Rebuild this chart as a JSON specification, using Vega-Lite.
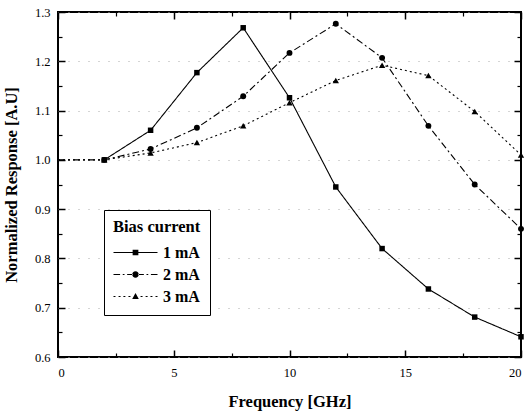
{
  "$schema": "https://vega.github.io/schema/vega-lite/v6.json",
  "width": 463,
  "height": 345,
  "autosize": "none",
  "padding": {"left": 58, "top": 12, "right": 7, "bottom": 57},
  "background": "white",
  "config": {
    "view": {"stroke": "black", "strokeWidth": 2},
    "font": "Liberation Serif",
    "axis": {
      "domain": false,
      "grid": false,
      "ticks": false,
      "labelColor": "black",
      "labelFont": "Liberation Serif",
      "labelFontSize": 12.5,
      "titleFont": "Liberation Serif",
      "titleFontSize": 16.5,
      "titleFontWeight": "bold",
      "titleColor": "black"
    },
    "legend": {
      "orient": "none",
      "legendX": 46,
      "legendY": 198,
      "strokeColor": "black",
      "fillColor": "white",
      "padding": 9,
      "titleFont": "Liberation Serif",
      "titleFontSize": 16.5,
      "titleFontWeight": "bold",
      "titleColor": "black",
      "titlePadding": 8,
      "labelFont": "Liberation Serif",
      "labelFontSize": 16,
      "labelFontWeight": "bold",
      "labelColor": "black",
      "labelOffset": 5,
      "symbolSize": 1936,
      "clipHeight": 18,
      "rowPadding": 4,
      "symbolOpacity": 1,
      "symbolStrokeColor": "#000000",
      "symbolStrokeWidth": 1,
      "symbolFillColor": "#000000"
    }
  },
  "data": {
    "values": [
      {"f": 2, "r": 1.0, "s": "1 mA"},
      {"f": 4, "r": 1.06, "s": "1 mA"},
      {"f": 6, "r": 1.177, "s": "1 mA"},
      {"f": 8, "r": 1.268, "s": "1 mA"},
      {"f": 10, "r": 1.126, "s": "1 mA"},
      {"f": 12, "r": 0.945, "s": "1 mA"},
      {"f": 14, "r": 0.82, "s": "1 mA"},
      {"f": 16, "r": 0.738, "s": "1 mA"},
      {"f": 18, "r": 0.681, "s": "1 mA"},
      {"f": 20, "r": 0.641, "s": "1 mA"},
      {"f": 0, "r": 1.0, "s": "2 mA"},
      {"f": 2, "r": 1.0, "s": "2 mA"},
      {"f": 4, "r": 1.022, "s": "2 mA"},
      {"f": 6, "r": 1.065, "s": "2 mA"},
      {"f": 8, "r": 1.129, "s": "2 mA"},
      {"f": 10, "r": 1.217, "s": "2 mA"},
      {"f": 12, "r": 1.276, "s": "2 mA"},
      {"f": 14, "r": 1.207, "s": "2 mA"},
      {"f": 16, "r": 1.069, "s": "2 mA"},
      {"f": 18, "r": 0.95, "s": "2 mA"},
      {"f": 20, "r": 0.86, "s": "2 mA"},
      {"f": 0, "r": 1.0, "s": "3 mA"},
      {"f": 2, "r": 1.0, "s": "3 mA"},
      {"f": 4, "r": 1.014, "s": "3 mA"},
      {"f": 6, "r": 1.035, "s": "3 mA"},
      {"f": 8, "r": 1.069, "s": "3 mA"},
      {"f": 10, "r": 1.116, "s": "3 mA"},
      {"f": 12, "r": 1.161, "s": "3 mA"},
      {"f": 14, "r": 1.192, "s": "3 mA"},
      {"f": 16, "r": 1.171, "s": "3 mA"},
      {"f": 18, "r": 1.098, "s": "3 mA"},
      {"f": 20, "r": 1.01, "s": "3 mA"}
    ]
  },
  "resolve": {
    "axis": {"x": "independent", "y": "independent"},
    "scale": {"shape": "independent", "strokeDash": "independent"}
  },
  "layer": [
    {
      "mark": {"type": "line", "color": "black", "strokeWidth": 1.1},
      "encoding": {
        "x": {
          "field": "f", "type": "quantitative",
          "scale": {"domain": [0, 20], "nice": false, "zero": false},
          "axis": {
            "orient": "bottom",
            "title": "Frequency [GHz]",
            "values": [0, 5, 10, 15, 20],
            "format": "d",
            "labelPadding": 9,
            "titlePadding": 15
          }
        },
        "y": {
          "field": "r", "type": "quantitative",
          "scale": {"domain": [0.6, 1.3], "nice": false, "zero": false},
          "axis": {
            "orient": "left",
            "title": "Normalized Response [A.U]",
            "values": [0.6, 0.7, 0.8, 0.9, 1.0, 1.1, 1.2, 1.3],
            "format": ".1f",
            "labelPadding": 8,
            "titlePadding": 15,
            "grid": true,
            "gridColor": "#aaaaaa",
            "gridDash": [1, 9],
            "gridWidth": 1
          }
        },
        "strokeDash": {
          "field": "s", "type": "nominal",
          "scale": {"domain": ["1 mA", "2 mA", "3 mA"], "range": [[1, 0], [7, 3, 2, 3], [2, 3]]},
          "legend": null
        }
      }
    },
    {
      "transform": [{"filter": "datum.f > 0"}],
      "mark": {"type": "point", "filled": true, "color": "black", "opacity": 1},
      "encoding": {
        "x": {
          "field": "f", "type": "quantitative",
          "axis": {"orient": "top", "title": null, "labels": false, "values": [0, 5, 10, 15, 20], "grid": true, "gridColor": "#000000", "gridWidth": 1.5, "gridDash": [7, 1000]}
        },
        "y": {
          "field": "r", "type": "quantitative",
          "axis": {"orient": "right", "title": null, "labels": false, "values": [0.6, 0.7, 0.8, 0.9, 1.0, 1.1, 1.2, 1.3], "grid": true, "gridColor": "#000000", "gridWidth": 1.5, "gridDash": [7, 1000]}
        },
        "shape": {
          "field": "s", "type": "nominal",
          "scale": {"domain": ["1 mA", "2 mA", "3 mA"], "range": ["square", "circle", "triangle-up"]},
          "legend": null
        },
        "size": {
          "field": "s", "type": "nominal",
          "scale": {"domain": ["1 mA", "2 mA", "3 mA"], "range": [30, 40, 28]},
          "legend": null
        }
      }
    },
    {
      "mark": {"type": "point", "opacity": 0, "filled": false, "fill": "#000000", "stroke": "#000000", "strokeWidth": 1},
      "encoding": {
        "x": {
          "field": "f", "type": "quantitative",
          "axis": {"orient": "bottom", "title": null, "labels": false, "values": [0, 5, 10, 15, 20], "grid": true, "gridColor": "#000000", "gridWidth": 1.5, "gridDash": [7, 1000]}
        },
        "y": {
          "field": "r", "type": "quantitative",
          "axis": {"orient": "left", "title": null, "labels": false, "values": [0.6, 0.7, 0.8, 0.9, 1.0, 1.1, 1.2, 1.3], "grid": true, "gridColor": "#000000", "gridWidth": 1.5, "gridDash": [7, 1000]}
        },
        "shape": {
          "field": "s", "type": "nominal",
          "scale": {
            "domain": ["1 mA", "2 mA", "3 mA"],
            "range": [
              "M-1,-0.025L1,-0.025L1,0.025L-1,0.025ZM-0.13,-0.13L0.13,-0.13L0.13,0.13L-0.13,0.13Z",
              "M-1,-0.025L-0.7,-0.025L-0.7,0.025L-1,0.025ZM-0.58,-0.025L-0.5,-0.025L-0.5,0.025L-0.58,0.025ZM-0.38,-0.025L-0.12,-0.025L-0.12,0.025L-0.38,0.025ZM0.12,-0.025L0.38,-0.025L0.38,0.025L0.12,0.025ZM0.5,-0.025L0.58,-0.025L0.58,0.025L0.5,0.025ZM0.7,-0.025L1,-0.025L1,0.025L0.7,0.025ZM-0.15,0A0.15,0.15 0 1,0 0.15,0A0.15,0.15 0 1,0 -0.15,0Z",
              "M-1,-0.025L-0.91,-0.025L-0.91,0.025L-1,0.025ZM-0.77,-0.025L-0.68,-0.025L-0.68,0.025L-0.77,0.025ZM-0.55,-0.025L-0.46,-0.025L-0.46,0.025L-0.55,0.025ZM-0.32,-0.025L-0.23,-0.025L-0.23,0.025L-0.32,0.025ZM0.23,-0.025L0.32,-0.025L0.32,0.025L0.23,0.025ZM0.46,-0.025L0.55,-0.025L0.55,0.025L0.46,0.025ZM0.68,-0.025L0.77,-0.025L0.77,0.025L0.68,0.025ZM0.91,-0.025L1,-0.025L1,0.025L0.91,0.025ZM0,-0.16L0.15,0.11L-0.15,0.11Z"
            ]
          },
          "legend": {"title": "Bias current"}
        },
        "strokeDash": {
          "field": "s", "type": "nominal",
          "scale": {"domain": ["1 mA", "2 mA", "3 mA"], "range": [[1, 0], [7, 3, 2, 3], [2, 3]]},
          "legend": {"title": "Bias current"}
        }
      }
    },
    {
      "mark": {"type": "point", "opacity": 0},
      "encoding": {
        "x": {
          "field": "f", "type": "quantitative",
          "axis": {"orient": "bottom", "title": null, "labels": false, "values": [2.5, 7.5, 12.5, 17.5], "grid": true, "gridColor": "#000000", "gridWidth": 1.2, "gridDash": [4, 1000]}
        },
        "y": {
          "field": "r", "type": "quantitative",
          "axis": {"orient": "left", "title": null, "labels": false, "values": [0.65, 0.75, 0.85, 0.95, 1.05, 1.15, 1.25], "grid": true, "gridColor": "#000000", "gridWidth": 1.2, "gridDash": [4, 1000]}
        }
      }
    },
    {
      "mark": {"type": "point", "opacity": 0},
      "encoding": {
        "x": {
          "field": "f", "type": "quantitative",
          "axis": {"orient": "top", "title": null, "labels": false, "values": [2.5, 7.5, 12.5, 17.5], "grid": true, "gridColor": "#000000", "gridWidth": 1.2, "gridDash": [4, 1000]}
        },
        "y": {
          "field": "r", "type": "quantitative",
          "axis": {"orient": "right", "title": null, "labels": false, "values": [0.65, 0.75, 0.85, 0.95, 1.05, 1.15, 1.25], "grid": true, "gridColor": "#000000", "gridWidth": 1.2, "gridDash": [4, 1000]}
        }
      }
    }
  ]
}
